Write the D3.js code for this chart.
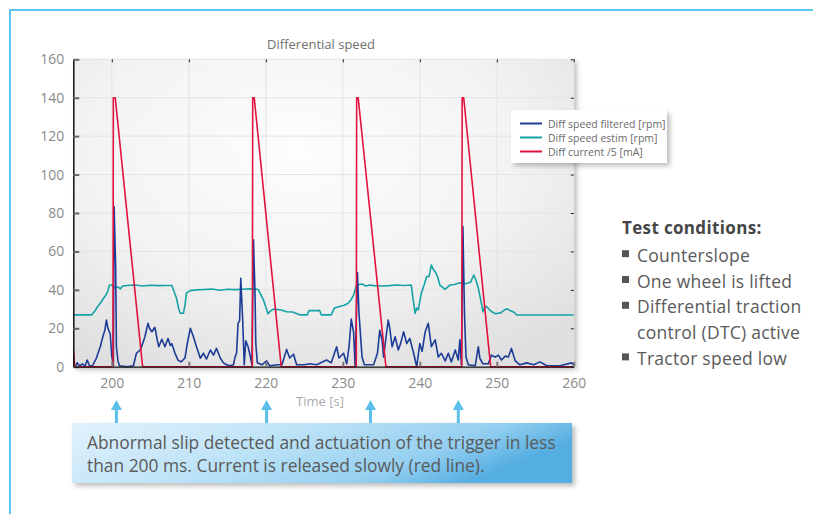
<!DOCTYPE html>
<html>
<head>
<meta charset="utf-8">
<script src="https://cdn.jsdelivr.net/npm/d3@7"></script>
<style>
  html, body { margin: 0; padding: 0; background: #fff; }
  svg { display: block; font-family: "Open Sans", "Noto Sans", sans-serif; }
</style>
</head>
<body>
<svg id="chart" width="813" height="514"></svg>
<script>
// ---------- data ----------
const xTicks = [200, 210, 220, 230, 240, 250, 260];
const yTicks = [0, 20, 40, 60, 80, 100, 120, 140, 160];
const seriesNames = ["Diff speed filtered [rpm]", "Diff speed estim [rpm]", "Diff current /5 [mA]"];

const filteredT = [195,195.3,195.5,195.8,196.2,196.5,196.8,197.1,197.5,198.0,198.5,198.9,199.1,199.3,199.5,199.8,200.0,200.2,200.3,200.5,200.6,200.8,201.0,202,202.8,203.2,203.7,204.0,204.3,204.7,204.9,205.2,205.6,205.9,206.1,206.5,206.9,207.3,207.6,207.8,208.2,208.6,209.0,209.5,209.8,210.2,210.6,211.0,211.5,211.9,212.3,212.8,213.2,213.6,214.1,214.5,214.9,215.4,215.8,216.0,216.2,216.4,216.6,216.75,217.0,217.2,217.4,217.7,217.9,218.2,218.4,218.6,218.7,218.9,219.5,220.1,220.5,221.5,222.1,222.7,223.1,223.6,224.0,225,225.7,226.6,227.9,228.5,229.2,229.5,230.1,230.5,230.8,231.1,231.4,231.6,231.9,232.1,232.5,232.8,234.0,234.5,234.8,235.1,235.3,235.6,235.9,236.1,236.4,236.8,237.2,237.5,237.9,238.3,238.7,239.2,239.6,240.0,240.3,240.7,241.1,241.5,242.0,242.4,242.8,243.3,243.7,244.1,244.6,245.0,245.2,245.4,245.6,245.8,246.0,246.3,247.2,247.6,247.8,248.2,248.9,249.3,249.8,250.2,250.6,251.1,251.5,251.9,252.4,253.0,253.9,254.8,255.6,256.5,258.2,259.7,260];
const filteredV = [1,0,2,0.5,1.5,0,3.5,0.5,0.5,4.5,10.4,16.5,19,24.3,20,17,5.2,0.5,83.3,52,10,3,0.5,0,0.5,7,8.7,12,15.6,22.6,20,18.2,20.5,14,10.4,14.3,10.4,14.7,11,12,7.1,3.4,2.5,4.5,12,20,15.6,10.4,4.4,7,4,8.7,6,9.5,4.4,2,1,0.5,1,5,7,22.6,24,46,24,1,13.5,10.4,7,1,66,38.2,12,2,1,3,0.5,1,1,9,4.5,6.5,1,1,1.5,1,3.5,2,10.4,4.5,7,1.5,10,24.8,18,0.5,49,27.8,5,1,1,7,19,14,5,15,24.3,20,10.4,15.6,8.7,12,18.2,12,14.7,7,0,12,8,18.2,22.6,10.4,14,5,7,3,7,2.5,8.7,3.5,14,1,72.9,27.8,5,1,0.5,10.4,4.4,1.5,1.5,6,5,6,3.5,5.5,5,9.5,3,1,2,1,2.5,0.5,0.5,2,1];

const estimT = [195,197.4,197.8,198.2,198.5,198.9,199.2,199.5,199.7,200.0,200.4,200.8,201.1,201.4,202,203,204,205,206,207,207.8,208.1,208.4,208.7,208.9,209.3,209.5,209.7,210.2,211,212,213,214,215,216,217,218,218.5,219.0,219.3,219.7,220.0,220.3,220.6,221,222,222.7,223.5,224.4,225.4,225.6,227,227.2,228.5,228.9,229.8,230.2,230.7,231.1,231.4,231.6,231.8,232.5,233,233.5,234,235,236,237,238,238.9,239.1,239.4,239.6,239.8,240.0,240.2,240.6,240.9,241.2,241.5,241.7,242,242.3,242.6,243.3,243.9,244.5,245.2,245.6,246.1,246.6,247,247.3,247.6,247.9,248.2,248.5,248.7,249.2,249.8,250.5,251.1,251.4,251.7,252.2,252.6,260];
const estimV = [27,27,29,31.5,33,35.5,37,39.5,42.5,42.5,41,41.5,40.5,42,42.3,42.5,42,42.4,42.2,42.3,42.3,39,35.6,30,27.8,27.8,32,38.4,39.6,40,40.2,40.4,39.8,40.3,40.1,40.3,40.5,40.5,40.2,38,34.7,31,27.5,29,30,29.5,28.6,28.5,27,27,29.2,29.2,27,27,30.5,31.6,32,33,35,37.3,40,42.5,43,42,42.5,42.2,42,42.2,42.5,42.3,42.5,36,27.8,30.5,29.6,34,38.2,43,46.9,47,52.9,51,49.4,47,42.5,40.3,42.5,42.8,43.7,43,43.4,44,47.7,45,40.9,35,28.6,31.5,31.2,29,27.6,28,29.9,30,29.3,28.5,26.9,26.9];

const currentT = [195,195.2,200.15,200.2,200.45,204.0,218.25,218.3,218.5,222.0,231.75,231.8,232.0,235.6,245.45,245.5,245.7,249.2,260];
const currentV = [9,0,0,140,140,0,0,140,140,0,0,140,140,0,0,140,140,0,0];

const calloutLines = ["Abnormal slip detected and actuation of the trigger in less",
                      "than 200 ms. Current is released slowly (red line)."];
const arrowTimes = [200.6, 220.1, 233.6, 245.0];
const conditionsTitle = "Test conditions:";
const conditions = [["Counterslope"], ["One wheel is lifted"], ["Differential traction", "control (DTC) active"], ["Tractor speed low"]];

// ---------- layout ----------
const svg = d3.select("#chart");
const colors = ["#1c3b96", "#15a2a5", "#e3123c"];
const x = d3.scaleLinear().domain([195, 260]).range([73.3, 573.8]);
const y = d3.scaleLinear().domain([0, 160]).range([366.7, 59.3]);

const defs = svg.append("defs");
const bg = defs.append("radialGradient").attr("id", "plotbg")
  .attr("cx", "45%").attr("cy", "30%").attr("r", "78%");
bg.append("stop").attr("offset", "0%").attr("stop-color", "#fdfdfd");
bg.append("stop").attr("offset", "55%").attr("stop-color", "#f3f3f3");
bg.append("stop").attr("offset", "100%").attr("stop-color", "#dfdfdf");

const sh = defs.append("filter").attr("id", "shadow").attr("x", "-10%").attr("y", "-10%").attr("width", "125%").attr("height", "130%");
sh.append("feDropShadow").attr("dx", 3).attr("dy", 3).attr("stdDeviation", 2.5)
  .attr("flood-color", "#000").attr("flood-opacity", 0.26);

const cg = defs.append("linearGradient").attr("id", "callbg").attr("x1", "0%").attr("x2", "100%").attr("y1", "0%").attr("y2", "30%");
cg.append("stop").attr("offset", "0%").attr("stop-color", "#e2f2fc");
cg.append("stop").attr("offset", "45%").attr("stop-color", "#bde3f7");
cg.append("stop").attr("offset", "80%").attr("stop-color", "#94cff0");
cg.append("stop").attr("offset", "100%").attr("stop-color", "#55aee1");

const clip = defs.append("clipPath").attr("id", "plotclip");
clip.append("rect").attr("x", x(195)).attr("y", y(160) - 2).attr("width", x(260) - x(195)).attr("height", y(0) - y(160) + 4);

// frame
svg.append("line").attr("x1", 10).attr("x2", 813).attr("y1", 10).attr("y2", 10)
  .attr("stroke", "#5cc6f0").attr("stroke-width", 2);
svg.append("line").attr("x1", 10).attr("x2", 10).attr("y1", 9).attr("y2", 514)
  .attr("stroke", "#5cc6f0").attr("stroke-width", 2);

// plot background
svg.append("rect").attr("x", x(195)).attr("y", y(160))
  .attr("width", x(260) - x(195)).attr("height", y(0) - y(160))
  .attr("fill", "url(#plotbg)").attr("filter", "url(#shadow)");

// gridlines
const grid = svg.append("g").attr("stroke", "#e4e4e4").attr("stroke-width", 1);
grid.selectAll("line.gx").data(xTicks).join("line")
  .attr("x1", d => x(d)).attr("x2", d => x(d)).attr("y1", y(160)).attr("y2", y(0));
grid.selectAll("line.gy").data(yTicks).join("line")
  .attr("x1", x(195)).attr("x2", x(260)).attr("y1", d => y(d)).attr("y2", d => y(d));

// title
svg.append("text").attr("x", 321).attr("y", 49).attr("text-anchor", "middle")
  .attr("font-size", 13).attr("fill", "#707070").text("Differential speed");

// series
const lineGen = d3.line().x(d => x(d[0])).y(d => y(d[1]));
const plot = svg.append("g").attr("clip-path", "url(#plotclip)");
const seriesData = [
  d3.zip(filteredT, filteredV),
  d3.zip(estimT, estimV),
  d3.zip(currentT, currentV)
];
[1, 0, 2].forEach(i => {
  plot.append("path").datum(seriesData[i]).attr("d", lineGen)
    .attr("fill", "none").attr("stroke", colors[i]).attr("stroke-width", 1.6)
    .attr("stroke-linejoin", "round");
});

// axes
const axL = svg.append("g").attr("transform", `translate(${x(195)},0)`)
  .call(d3.axisLeft(y).tickValues(yTicks).tickSizeInner(-6).tickSizeOuter(0).tickPadding(9));
axL.select(".domain").attr("stroke", "#111").attr("stroke-width", 1.5);
axL.selectAll(".tick line").attr("stroke", "#666").attr("stroke-width", 2);
axL.selectAll(".tick text").attr("font-size", 14).attr("fill", "#8a8a8a").attr("font-family", "Open Sans, sans-serif");

const axB = svg.append("g").attr("transform", `translate(0,${y(0)})`)
  .call(d3.axisBottom(x).tickValues(xTicks).tickSizeInner(-5).tickSizeOuter(0).tickPadding(11));
axB.select(".domain").attr("stroke", "#111").attr("stroke-width", 1.2);
axB.selectAll(".tick line").attr("stroke", "#777").attr("stroke-width", 2);
axB.selectAll(".tick text").attr("font-size", 14).attr("fill", "#8a8a8a").attr("font-family", "Open Sans, sans-serif");

const axT = svg.append("g").attr("transform", `translate(0,${y(160)})`)
  .call(d3.axisTop(x).tickValues(xTicks).tickSizeInner(-3).tickSizeOuter(0).tickFormat(""));
axT.select(".domain").remove();
axT.selectAll(".tick line").attr("stroke", "#222").attr("stroke-width", 1);

const axR = svg.append("g").attr("transform", `translate(${x(260)},0)`)
  .call(d3.axisRight(y).tickValues(yTicks).tickSizeInner(-3).tickSizeOuter(0).tickFormat(""));
axR.select(".domain").remove();
axR.selectAll(".tick line").attr("stroke", "#222").attr("stroke-width", 1);

svg.append("text").attr("x", 320).attr("y", 406).attr("text-anchor", "middle")
  .attr("font-size", 13).attr("fill", "#ababab").text("Time [s]");

// legend
const lg = svg.append("g").attr("transform", "translate(511,110)");
lg.append("rect").attr("width", 156).attr("height", 53).attr("fill", "#fff").attr("filter", "url(#shadow)");
seriesNames.forEach((n, i) => {
  const yy = 13.5 + i * 14;
  lg.append("line").attr("x1", 9).attr("x2", 31).attr("y1", yy).attr("y2", yy)
    .attr("stroke", colors[i]).attr("stroke-width", 2);
  lg.append("text").attr("x", 37).attr("y", yy + 4).attr("font-size", 10.5)
    .attr("fill", "#6a6a6a").text(n);
});

// arrows
const arr = svg.append("g").attr("fill", "#5bbfec").attr("stroke", "#5bbfec");
arrowTimes.forEach(t => {
  const ax = x(t);
  arr.append("line").attr("x1", ax).attr("x2", ax).attr("y1", 408).attr("y2", 423).attr("stroke-width", 3);
  arr.append("path").attr("d", `M${ax - 5.5},${410} L${ax},${400} L${ax + 5.5},${410} Z`).attr("stroke", "none");
});

// callout
svg.append("rect").attr("x", 72).attr("y", 423).attr("width", 500).attr("height", 60)
  .attr("fill", "url(#callbg)").attr("filter", "url(#shadow)");
const ct = svg.append("g");
calloutLines.forEach((l, i) => {
  ct.append("text").attr("x", 87).attr("y", 449 + i * 23).attr("font-size", 16.5)
    .attr("fill", "#5a5a5a").text(l);
});
// fit first line to target width
{
  const t0 = ct.select("text").node();
  const w = t0.getComputedTextLength();
  const fs = 16.5 * 469 / w;
  ct.selectAll("text").attr("font-size", fs);
}

// test conditions
const tc = svg.append("g").attr("transform", "translate(622,0)");
tc.append("text").attr("x", 0).attr("y", 234).attr("font-size", 17).attr("font-weight", "bold")
  .attr("letter-spacing", 0.35).attr("fill", "#464646").text(conditionsTitle);
let row = 0;
conditions.forEach(item => {
  item.forEach((line, j) => {
    const by = 261.7 + row * 25.8;
    if (j === 0) tc.append("rect").attr("x", 0).attr("y", by - 11.5).attr("width", 7).attr("height", 7).attr("fill", "#555");
    tc.append("text").attr("x", 15).attr("y", by).attr("font-size", 17.5)
      .attr("letter-spacing", 0.25).attr("fill", "#5a5a5a").text(line);
    row++;
  });
});
</script>
</body>
</html>
